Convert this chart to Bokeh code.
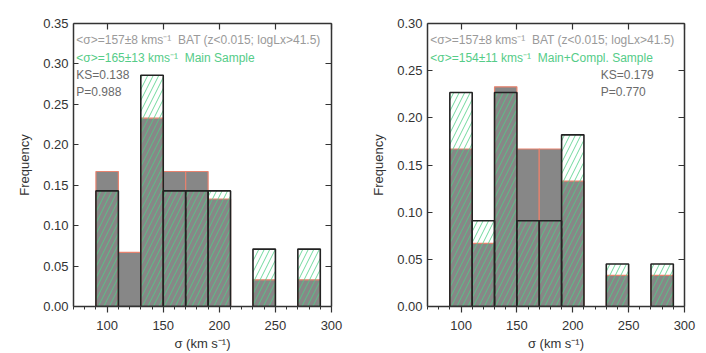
from bokeh.plotting import figure
from bokeh.layouts import row
from bokeh.models import (LinearAxis, Range1d, SingleIntervalTicker, Label,
                          PrintfTickFormatter)
from bokeh.embed import file_html
from bokeh.resources import INLINE

# ---- data ----
bin_left = [90, 110, 130, 150, 170, 190, 230, 270]
bin_right = [110, 130, 150, 170, 190, 210, 250, 290]
bat_freq = [0.167, 0.067, 0.233, 0.167, 0.167, 0.133, 0.033, 0.033]
main_freq = [0.143, 0.0, 0.286, 0.143, 0.143, 0.143, 0.071, 0.071]
compl_freq = [0.227, 0.091, 0.227, 0.091, 0.091, 0.182, 0.045, 0.045]

NB = "\u00a0"
bat_text = f"<σ>=157±8{NB}kms⁻¹{NB*2}BAT (z<0.015; logLx>41.5)"
main_text = f"<σ>=165±13{NB}kms⁻¹{NB*2}Main Sample"
compl_text = f"<σ>=154±11{NB}kms⁻¹{NB*2}Main+Compl. Sample"
ks_main = ["KS=0.138", "P=0.988"]
ks_compl = ["KS=0.179", "P=0.770"]

FONT = "Liberation Sans"
AX = "#333333"
TXT = "12px"


def make_panel(sample, ymax, sample_label, ks, text_y, ks_x, ks_y,
               border_left, border_right):
    p = figure(width=353, height=353, x_range=Range1d(70, 300),
               y_range=Range1d(0, ymax + 0.0001), output_backend="svg",
               toolbar_location=None, min_border_left=border_left,
               min_border_right=border_right, min_border_top=23,
               min_border_bottom=47)
    p.grid.visible = False
    p.outline_line_color = None
    p.background_fill_color = "white"

    xt = SingleIntervalTicker(interval=50, num_minor_ticks=5)
    yt = SingleIntervalTicker(interval=0.05, num_minor_ticks=0)

    xa = p.xaxis[0]
    xa.ticker = xt
    xa.major_tick_in = 0
    xa.major_tick_out = 6
    xa.minor_tick_in = 0
    xa.minor_tick_out = 3
    xa.axis_label = f"σ{NB}(km{NB}s⁻¹)"
    xa.axis_label_standoff = 3
    xa.major_label_standoff = 8

    ya = p.yaxis[0]
    ya.ticker = yt
    ya.formatter = PrintfTickFormatter(format="%.2f")
    ya.major_tick_in = 5
    ya.major_tick_out = 0
    ya.minor_tick_line_color = None
    ya.axis_label = "Frequency"
    ya.axis_label_standoff = 8
    ya.major_label_standoff = 5

    top = LinearAxis(ticker=SingleIntervalTicker(interval=50, num_minor_ticks=0),
                     major_tick_in=6, major_tick_out=0,
                     minor_tick_line_color=None, major_label_text_color=None)
    right = LinearAxis(ticker=SingleIntervalTicker(interval=0.05, num_minor_ticks=0),
                       major_tick_in=6, major_tick_out=0,
                       minor_tick_line_color=None, major_label_text_color=None)
    p.add_layout(top, "above")
    p.add_layout(right, "right")

    for ax in [xa, ya, top, right]:
        ax.axis_line_color = AX
        ax.axis_line_width = 1.5
        ax.major_tick_line_color = AX
        ax.major_tick_line_width = 1.2
        ax.minor_tick_line_color = AX if ax is xa else None
        ax.major_label_text_font = FONT
        ax.major_label_text_font_size = "13px"
        ax.axis_label_text_font = FONT
        ax.axis_label_text_font_size = "13px"
        ax.axis_label_text_font_style = "normal"
        ax.axis_label_text_color = "#333333"
    xa.major_label_text_color = "#333333"
    ya.major_label_text_color = "#333333"

    p.quad(left=bin_left, right=bin_right, bottom=0, top=bat_freq,
           fill_color="#878787", line_color="#e8826e", line_width=1.2)
    p.quad(left=bin_left, right=bin_right, bottom=0, top=sample,
           fill_alpha=0, line_color="#222222", line_width=1.6,
           hatch_pattern="/", hatch_color="#4ccf85", hatch_scale=11,
           hatch_weight=0.8)

    p.add_layout(Label(x=72.5, y=text_y[0], text=bat_text, text_font=FONT,
                       text_font_size=TXT, text_color="#9a9a9a",
                       text_baseline="middle"))
    p.add_layout(Label(x=72.5, y=text_y[1], text=sample_label, text_font=FONT,
                       text_font_size=TXT, text_color="#55cc88",
                       text_baseline="middle"))
    p.add_layout(Label(x=ks_x, y=ks_y[0], text=ks[0], text_font=FONT,
                       text_font_size=TXT, text_color="#6a6a6a",
                       text_baseline="middle"))
    p.add_layout(Label(x=ks_x, y=ks_y[1], text=ks[1], text_font=FONT,
                       text_font_size=TXT, text_color="#6a6a6a",
                       text_baseline="middle"))
    return p


p1 = make_panel(main_freq, 0.35, main_text, ks_main, (0.330, 0.308), 72.5,
                (0.287, 0.265), 73, 22)
p2 = make_panel(compl_freq, 0.30, compl_text, ks_compl, (0.283, 0.264), 225,
                (0.246, 0.227), 74, 22)

layout = row(p1, p2)
open("out.html", "w").write(file_html(layout, INLINE))
